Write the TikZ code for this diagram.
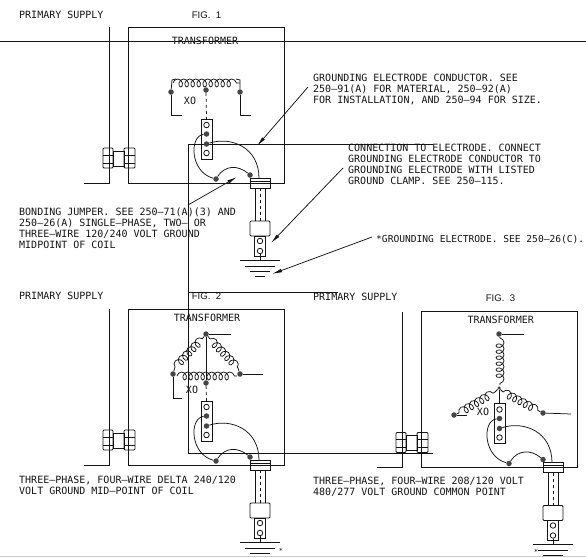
\documentclass[tikz,border=0pt]{standalone}
\usepackage{fontspec}
\setmainfont{DejaVu Sans Mono}
\newfontfamily\figfont{Liberation Sans}
\usetikzlibrary{arrows.meta,decorations.pathmorphing}

\newlength{\du}
\setlength{\du}{1pt}

\definecolor{dialinecolor}{rgb}{0.08, 0.08, 0.08}
\definecolor{dotcolor}{rgb}{0.27, 0.27, 0.27}
\definecolor{edgecolor}{rgb}{0.80, 0.80, 0.80}

\tikzset{
  wire/.style={draw=dialinecolor, line width=0.9\du},
  thinwire/.style={draw=dialinecolor, line width=0.75\du},
  note/.style={font=\fontsize{10}{11}\selectfont, text=dialinecolor, inner sep=0pt, align=left},
  notewest/.style={note, anchor=west},
  figtag/.style={note, font=\fontsize{9.6}{11}\selectfont\figfont},
  startag/.style={note, font=\fontsize{7}{8}\selectfont},
  dotpin/.style={circle, fill=dotcolor, inner sep=0pt, minimum size=5.5\du},
  openpin/.style={circle, draw=dialinecolor, line width=0.8\du, fill=white, inner sep=0pt, minimum size=5.5\du},
  leader/.style={draw=dialinecolor, line width=0.75\du, -{Latex[length=10pt,width=3.6pt]}},
  winding/.style={thinwire, decorate, decoration={coil, aspect=0.8, segment length=6\du, amplitude=4\du}}
}

% one transformer box with bushing, terminal block, jumper and electrode
\newcommand{\gearset}[1]{
  \draw[wire] (128\du,27\du) rectangle (284\du,183\du);
  \draw[wire] (84\du,183\du)--(109\du,183\du)--(109\du,27\du);
  % bushing
  \draw[wire,rounded corners=1\du] (103\du,148\du) rectangle (113\du,168\du);
  \draw[wire,rounded corners=1\du] (124\du,148\du) rectangle (135\du,168\du);
  \draw[wire] (113\du,151\du) rectangle (124\du,166\du);
  \draw[thinwire] (103\du,155\du)--(113\du,155\du) (103\du,163\du)--(113\du,163\du);
  \draw[thinwire] (124\du,155\du)--(135\du,155\du) (124\du,163\du)--(135\du,163\du);
  % terminal block
  \draw[wire] (201\du,119\du) rectangle (212\du,159\du);
  \node[openpin] (#1open) at (206.5\du,125\du) {};
  \node[dotpin] (#1bond) at (206.5\du,134\du) {};
  \node[dotpin] (#1cond) at (206.5\du,144\du) {};
  \node[openpin] (#1openb) at (206.5\du,153\du) {};
  \node[dotpin] (#1jump) at (216\du,179\du) {};
  \node[dotpin] (#1jumpb) at (250\du,175\du) {};
  \coordinate (#1clamp) at (259\du,178\du);
  \draw[thinwire] (#1bond) .. controls (189\du,136\du) and (190\du,172\du) .. (#1jump);
  \draw[thinwire] (#1jump) .. controls (225\du,165\du) and (238\du,165\du) .. (#1jumpb);
  \draw[thinwire] (#1cond) .. controls (232\du,136\du) and (259\du,148\du) .. (#1clamp);
  % clamp and rod
  \draw[wire] (250\du,178\du) rectangle (270\du,188\du);
  \draw[thinwire] (250\du,181\du)--(270\du,181\du);
  \draw[wire] (255\du,188\du)--(255\du,221\du) (265\du,188\du)--(265\du,221\du);
  \draw[thinwire,dashed] (260\du,188\du)--(260\du,221\du);
  \draw[wire,rounded corners=1\du] (250\du,221\du) rectangle (270\du,236\du);
  \draw[wire] (254\du,236\du) rectangle (265\du,256\du);
  \node[openpin] (#1roda) at (260\du,241\du) {};
  \node[openpin] (#1rodb) at (260\du,251\du) {};
  % ground
  \draw[wire] (#1rodb)--(260\du,260\du);
  \draw[wire] (240\du,260\du)--(280\du,260\du);
  \draw[wire] (245\du,266\du)--(275\du,266\du);
  \draw[wire] (250\du,271\du)--(270\du,271\du);
  \draw[wire] (255\du,276\du)--(265\du,276\du);
}

\begin{document}
\begin{tikzpicture}
\pgftransformxscale{1.000000}
\pgftransformyscale{-1.000000}
\useasboundingbox (0\du,0\du) rectangle (586\du,557\du);

% long lines
\draw[wire] (0\du,41\du)--(586\du,41\du);
\draw[wire] (433\du,144\du)--(188\du,144\du)--(188\du,453\du)--(433\du,453\du);
\draw[wire] (188\du,292\du)--(338\du,292\du);

% fig 1
\gearset{a}
\node[dotpin] (acoilb) at (171\du,92\du) {};
\node[dotpin] (acoilm) at (206\du,90\du) {};
\node[dotpin] (acoile) at (240\du,92\du) {};
\draw[winding] (173\du,83\du)--(240\du,83\du);
\draw[thinwire] (acoilb)--(172\du,80\du)--(176\du,79\du) (acoile)--(240\du,80\du)--(236\du,79\du);
\draw[thinwire] (acoilb)--(171\du,115\du)--(182\du,115\du);
\draw[thinwire] (acoile)--(240\du,115\du)--(251\du,115\du);
\draw[thinwire,dashed] (acoilm)--(206.5\du,119\du);
\node[note] (axo) at (190\du,101\du) {XO};
\node[note] (axfmr) at (205\du,41\du) {TRANSFORMER};
\node[notewest] (asupply) at (19\du,15\du) {PRIMARY SUPPLY};
\node[figtag] (afig) at (206.5\du,15\du) {FIG.\ \ 1};

% notes of fig 1
\node[notewest,anchor=north west] (geclabel) at (313\du,74\du) {GROUNDING ELECTRODE CONDUCTOR. SEE\\250--91(A) FOR MATERIAL, 250--92(A)\\FOR INSTALLATION, AND 250--94 FOR SIZE.};
\node[notewest,anchor=north west] (connlabel) at (348\du,144\du) {CONNECTION TO ELECTRODE. CONNECT\\GROUNDING ELECTRODE CONDUCTOR TO\\GROUNDING ELECTRODE WITH LISTED\\GROUND CLAMP. SEE 250--115.};
\node[notewest,font=\fontsize{9.6}{11}\selectfont] (rodlabel) at (376\du,239\du) {*GROUNDING ELECTRODE. SEE 250--26(C).};
\node[notewest,anchor=north west] (bondlabel) at (19\du,208\du) {BONDING JUMPER. SEE 250--71(A)(3) AND\\250--26(A) SINGLE--PHASE, TWO-- OR\\THREE--WIRE 120/240 VOLT GROUND\\MIDPOINT OF COIL};
\coordinate (gectail) at (308\du,87\du);
\coordinate (gectip) at (257\du,146\du);
\coordinate (conntail) at (343\du,168\du);
\coordinate (conntip) at (271\du,243\du);
\coordinate (rodtail) at (372\du,237\du);
\coordinate (rodtip) at (272\du,274\du);
\coordinate (bondtail) at (188\du,205\du);
\coordinate (bondtip) at (237\du,177\du);
\draw[leader] (gectail)--(gectip);
\draw[leader] (conntail)--(conntip);
\draw[leader] (rodtail)--(rodtip);
\draw[leader] (bondtail)--(bondtip);

% fig 2
\begin{scope}[shift={(0\du,282\du)}]
\gearset{b}
\end{scope}
\node[dotpin] (bapex) at (206\du,334\du) {};
\node[dotpin] (bleft) at (173\du,374\du) {};
\node[dotpin] (bright) at (240\du,374\du) {};
\node[dotpin] (bmid) at (206\du,383\du) {};
\draw[winding] (177\du,376\du)--(237\du,376\du);
\draw[winding] (175\du,367\du)--(203\du,338\du);
\draw[winding] (210\du,339\du)--(238\du,368\du);
\draw[thinwire] (bleft)--(175\du,367\du) (bright)--(238\du,368\du) (bapex)--(203\du,338\du) (bapex)--(210\du,339\du);
\draw[thinwire] (bapex)--(231\du,334\du);
\draw[thinwire] (bapex)--(bmid);
\draw[thinwire] (bright)--(263\du,374\du);
\draw[thinwire] (bleft)--(173\du,398\du)--(182\du,398\du);
\draw[thinwire,dashed] (bmid)--(206.5\du,401\du);
\node[note] (bxo) at (192\du,390\du) {XO};
\node[note] (bxfmr) at (207\du,318\du) {TRANSFORMER};
\node[notewest] (bsupply) at (19\du,296\du) {PRIMARY SUPPLY};
\node[figtag] (bfig) at (206.5\du,296\du) {FIG.\ \ 2};
\node[notewest,anchor=north west] (blabel) at (19\du,476\du) {THREE--PHASE, FOUR--WIRE DELTA 240/120\\VOLT GROUND MID--POINT OF COIL};
\node[startag] (bstar) at (281\du,551\du) {*};

% fig 3
\begin{scope}[shift={(293\du,284.5\du)}]
\gearset{c}
\end{scope}
\node[dotpin] (ctop) at (499\du,334\du) {};
\node[dotpin] (cleft) at (454\du,415\du) {};
\node[dotpin] (cright) at (543\du,413\du) {};
\node[dotpin,minimum size=3.5\du] (cmid) at (499\du,388\du) {};
\draw[winding] (500\du,338\du)--(500\du,385\du);
\draw[winding] (459\du,413\du)--(495\du,392\du);
\draw[winding] (503\du,392\du)--(539\du,411\du);
\draw[thinwire] (ctop)--(500\du,338\du) (cmid)--(495\du,392\du) (cmid)--(503\du,392\du);
\draw[thinwire] (ctop)--(524\du,334\du);
\draw[thinwire] (cleft)--(467\du,415\du);
\draw[thinwire] (cright)--(571\du,414\du);
\draw[thinwire] (cleft)--(459\du,413\du) (cright)--(539\du,411\du);
\draw[thinwire] (cmid)--(499\du,403\du);
\node[note] (cxo) at (483\du,412\du) {XO};
\node[note] (cxfmr) at (500.7\du,320\du) {TRANSFORMER};
\node[notewest] (csupply) at (313\du,297\du) {PRIMARY SUPPLY};
\node[figtag] (cfig) at (500.5\du,298\du) {FIG.\ \ 3};
\node[notewest,anchor=north west] (clabel) at (313\du,477\du) {THREE--PHASE, FOUR--WIRE 208/120 VOLT\\480/277 VOLT GROUND COMMON POINT};
\node[startag] (cstar) at (536\du,552\du) {*};

% page edge
\fill[edgecolor] (0\du,555.5\du) rectangle (586\du,557\du);
\end{tikzpicture}
\end{document}
